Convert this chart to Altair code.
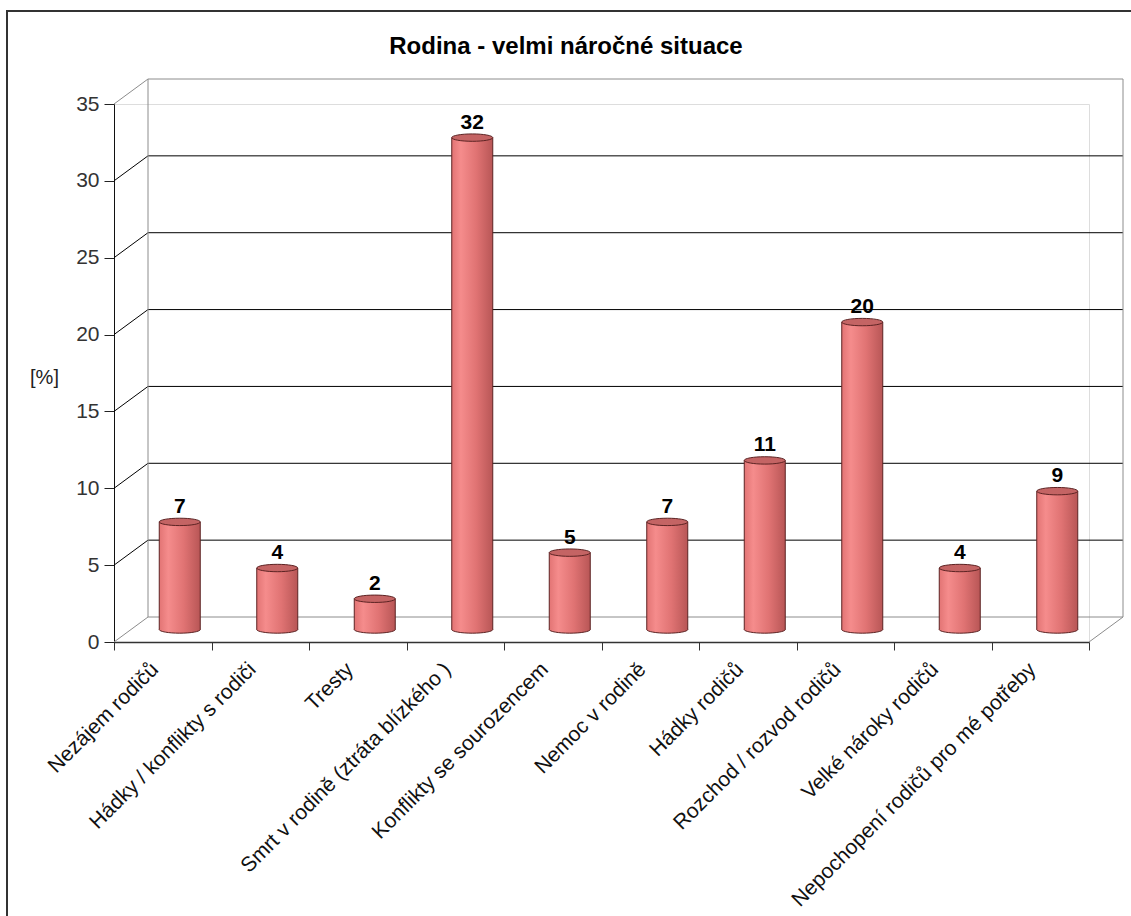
import altair as alt
import pandas as pd

# --- data -------------------------------------------------------------
categories = [
    "Nezájem rodičů",
    "Hádky / konflikty s rodiči",
    "Tresty",
    "Smrt v rodině (ztráta blízkého )",
    "Konflikty se sourozencem",
    "Nemoc v rodině",
    "Hádky rodičů",
    "Rozchod / rozvod rodičů",
    "Velké nároky rodičů",
    "Nepochopení rodičů pro mé potřeby",
]
values = [7, 4, 2, 32, 5, 7, 11, 20, 4, 9]
y_ticks = [0, 5, 10, 15, 20, 25, 30, 35]
chart_title = "Rodina - velmi náročné situace"

bars = pd.DataFrame({"kategorie": categories, "hodnota": values})
grid = pd.DataFrame({"hodnota": y_ticks})
one = pd.DataFrame({"k": [0]})

# --- layout / style ---------------------------------------------------
W, H = 975, 538          # front plot area
PAD_L, PAD_T = 114, 104  # plot area origin inside the page
DX, DY = 34, -25         # depth of the 3-D box (back wall shift)
MX, MY = DX / 2, DY / 2  # mid-depth shift where cylinders stand
BW = 41                  # cylinder diameter
FONT = "Arial, Liberation Sans, sans-serif"
OUT = "#5c2323"
WALL = "#8c8c8c"

body_grad = alt.Gradient(
    gradient="linear", x1=0, x2=1, y1=0, y2=0,
    stops=[
        alt.GradientStop(color="#e27474", offset=0),
        alt.GradientStop(color="#f58c8c", offset=0.22),
        alt.GradientStop(color="#e07373", offset=0.6),
        alt.GradientStop(color="#b85656", offset=1),
    ],
)
TOP_FILL = "#c46464"

# ellipse (unit box, flattened) built from cubic curves
ry = 0.18
k = 0.5523 * ry
ELLIPSE = (
    f"M-1,0 C-1,{-k} -0.5523,{-ry} 0,{-ry} "
    f"C0.5523,{-ry} 1,{-k} 1,0 "
    f"C1,{k} 0.5523,{ry} 0,{ry} "
    f"C-0.5523,{ry} -1,{k} -1,0 Z"
)

xscale = alt.Scale(domain=categories, paddingInner=0, paddingOuter=0)
yscale = alt.Scale(domain=[0, 35], nice=False, zero=True)

xaxis = alt.Axis(
    title=None, tickBand="extent", labelAngle=-45, labelAlign="right",
    labelBaseline="middle", labelFont=FONT, labelFontSize=21,
    labelColor="#111", labelPadding=16, labelOffset=-8, tickSize=8,
    tickColor="#333", domainColor="#333", domainWidth=1.5, labelLimit=0,
)
yaxis = alt.Axis(
    values=y_ticks, title="[%]", titleAngle=0, titleX=-70, titleY=273,
    titleAlign="center", titleBaseline="middle", titleFont=FONT,
    titleFontSize=20, titleFontWeight="normal", titleColor="#222",
    labelFont=FONT, labelFontSize=21, labelColor="#333", labelPadding=5,
    tickSize=10, tickColor="#222", domainColor="#111", grid=False,
)

X = alt.X("kategorie:N", scale=xscale, axis=xaxis, sort=categories)
Yg = alt.Y("hodnota:Q", scale=yscale, axis=yaxis)

# outer frame of the chart object
frame = alt.Chart(one).mark_rect(
    fillOpacity=0, stroke="#333", strokeWidth=2
).encode(
    x=alt.value(7 - PAD_L), y=alt.value(11 - PAD_T),
    x2=alt.value(W + 200), y2=alt.value(H + 400),
)

# chart heading, centred on the frame
heading = alt.Chart(one).mark_text(
    text=chart_title, font=FONT, fontSize=24, fontWeight="bold",
    color="#000", align="center", baseline="alphabetic",
).encode(x=alt.value(566 - PAD_L), y=alt.value(54 - PAD_T))

wall_color = alt.condition(
    "datum.hodnota == 0 || datum.hodnota == 35",
    alt.value(WALL), alt.value("#000000"),
)

# horizontal gridlines on the back wall
back_grid = alt.Chart(grid).mark_rule(
    xOffset=DX, x2Offset=DX, yOffset=DY, strokeWidth=1
).encode(y=Yg, x=alt.value(0), x2=alt.value(W), color=wall_color)

# gridlines across the side wall (front tick -> back wall)
side_grid = alt.Chart(grid).mark_rule(y2Offset=DY, strokeWidth=1).encode(
    y=Yg, y2="hodnota:Q", x=alt.value(0), x2=alt.value(DX), color=wall_color
)

# back wall vertical edges
wall_left = alt.Chart(one).mark_rule(
    color=WALL, yOffset=DY, y2Offset=DY
).encode(x=alt.value(DX), y=alt.datum(0), y2=alt.datum(35))
wall_right = alt.Chart(one).mark_rule(
    color=WALL, yOffset=DY, y2Offset=DY
).encode(x=alt.value(W + DX), y=alt.datum(0), y2=alt.datum(35))

# right floor edge
floor_right = alt.Chart(one).mark_rule(color=WALL, y2Offset=DY).encode(
    x=alt.value(W), x2=alt.value(W + DX), y=alt.datum(0), y2=alt.datum(0)
)

# cylinders
base = alt.Chart(bars)

bottom_cap = base.mark_point(
    shape=ELLIPSE, size=BW * BW, filled=True, fill=body_grad, stroke=OUT,
    strokeWidth=1, opacity=1, xOffset=MX, yOffset=MY,
).encode(x=X, y=alt.datum(0))

body = base.mark_bar(
    width=BW, fill=body_grad, xOffset=MX, yOffset=MY, y2Offset=MY
).encode(x=X, y=Yg, y2=alt.datum(0))

side_l = base.mark_rule(
    color=OUT, strokeWidth=1, xOffset=MX - BW / 2, yOffset=MY, y2Offset=MY
).encode(x=X, y=Yg, y2=alt.datum(0))
side_r = base.mark_rule(
    color=OUT, strokeWidth=1, xOffset=MX + BW / 2, yOffset=MY, y2Offset=MY
).encode(x=X, y=Yg, y2=alt.datum(0))

top_cap = base.mark_point(
    shape=ELLIPSE, size=BW * BW, filled=True, fill=TOP_FILL, stroke=OUT,
    strokeWidth=1, opacity=1, xOffset=MX, yOffset=MY,
).encode(x=X, y=Yg)

value_labels = base.mark_text(
    font=FONT, fontSize=21, fontWeight="bold", color="#000",
    baseline="alphabetic", dy=-9, xOffset=MX, yOffset=MY,
).encode(x=X, y=Yg, text="hodnota:Q")

chart = alt.layer(
    frame, heading, back_grid, side_grid, wall_left, wall_right, floor_right,
    bottom_cap, body, side_l, side_r, top_cap, value_labels,
).properties(
    width=W, height=H,
    padding={"left": PAD_L, "top": PAD_T, "right": 42, "bottom": 274},
    autosize=alt.AutoSizeParams(type="none"),
).configure_view(stroke=None).configure(background="white")

chart.save("out.html", embed_options={"renderer": "svg", "actions": False})
